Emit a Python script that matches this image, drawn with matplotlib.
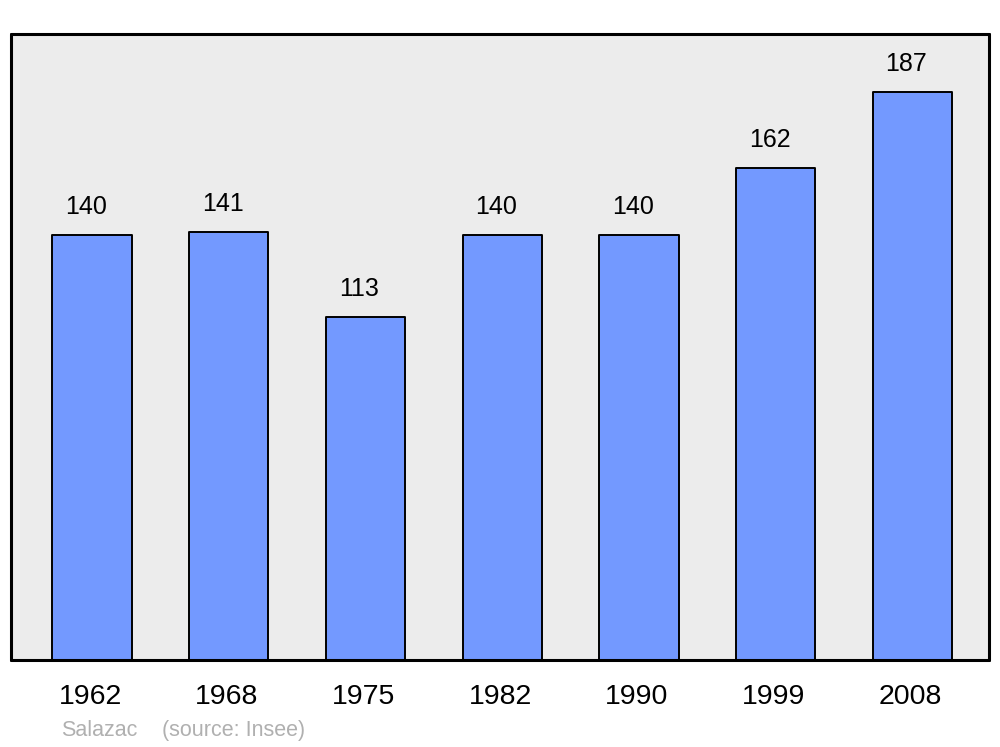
import matplotlib
matplotlib.use('Agg')
import matplotlib.pyplot as plt
import numpy as np

plt.rcParams['font.family'] = ['Liberation Sans', 'DejaVu Sans']

# data
years = ['1962', '1968', '1975', '1982', '1990', '1999', '2008']
population = [140, 141, 113, 140, 140, 162, 187]
commune = 'Salazac'
source = '(source: Insee)'

fig = plt.figure(figsize=(10, 7.47), dpi=100)
ax = fig.add_axes([0.011, 0.1165, 0.978, 0.838])
ax.set_facecolor('#ececec')

x = np.arange(len(years))
ax.bar(x, population, width=0.58, color='#7399ff', edgecolor='black',
       linewidth=1.4, joinstyle='round', zorder=2)

for xi, v in zip(x, population):
    ax.annotate(str(v), xy=(xi, v), xytext=(-6, 28), textcoords='offset pixels',
                ha='center', va='center', fontsize=18)

# year labels under the frame
for xi, yr in zip(x, years):
    ax.annotate(yr, xy=(xi, 0), xycoords=('data', 'axes fraction'),
                xytext=(-2, -37), textcoords='offset pixels',
                ha='center', va='center', fontsize=20.5)

ax.set_xlim(-0.593, len(years) - 1 + 0.56)
ax.set_ylim(0, 206)
ax.set_xticks([])
ax.set_yticks([])
for s in ax.spines.values():
    s.set_linewidth(2.2)
    s.set_capstyle('round')

fig.text(0.061, 0.0225, commune, fontsize=15.5, color='#b0b0b0', ha='left', va='center')
fig.text(0.162, 0.0225, source, fontsize=15.5, color='#b0b0b0', ha='left', va='center')

fig.savefig('out.png', dpi=100)
